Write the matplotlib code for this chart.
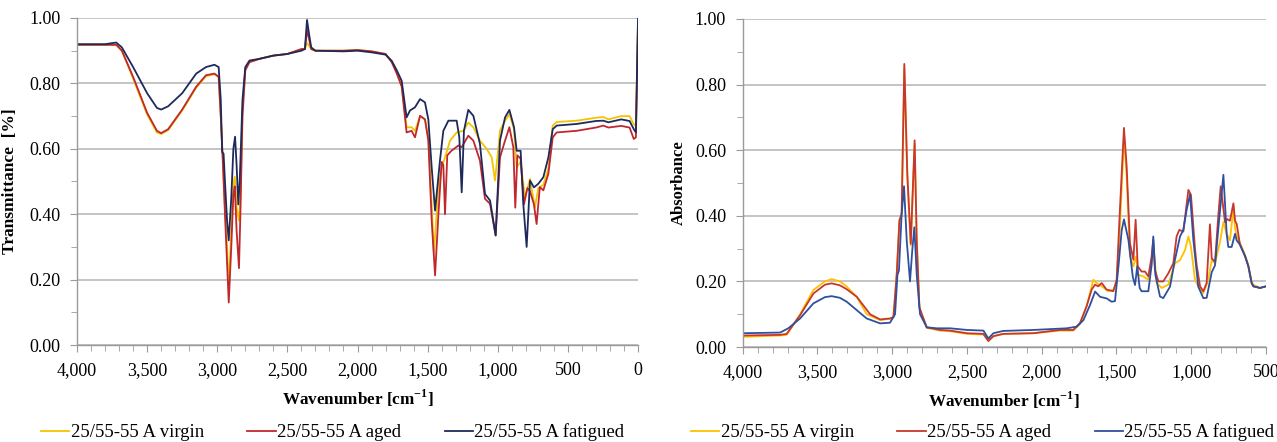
import matplotlib
matplotlib.use("Agg")
import matplotlib.pyplot as plt
from matplotlib.ticker import MultipleLocator, FuncFormatter

plt.rcParams['font.family'] = ['Liberation Serif', 'DejaVu Serif']
plt.rcParams['mathtext.fontset'] = 'custom'
plt.rcParams['mathtext.rm'] = 'Liberation Serif'
plt.rcParams['mathtext.bf'] = 'Liberation Serif:bold'

labels = ['25/55-55 A virgin', '25/55-55 A aged', '25/55-55 A fatigued']

# ---- left panel: transmittance ----
t_virgin_wn = [4000, 3800, 3720, 3680, 3600, 3500, 3430, 3400, 3350, 3250, 3150, 3080, 3020, 2990, 2975,
               2962, 2945, 2930, 2918, 2900, 2885, 2875, 2862, 2845, 2835, 2820, 2800, 2770, 2700, 2600,
               2500, 2400, 2375, 2360, 2345, 2330, 2300, 2100, 2000, 1900, 1800, 1756, 1720, 1685, 1650,
               1614, 1590, 1554, 1519, 1495, 1471, 1455, 1424, 1400, 1376, 1340, 1293, 1245, 1210, 1174,
               1127, 1079, 1043, 1020, 996, 984, 948, 917, 884, 865, 837, 806, 770, 735, 711, 675, 639,
               608, 580, 437, 300, 247, 211, 120, 60, 30, 15, 0]
t_virgin = [0.918, 0.918, 0.918, 0.90, 0.815, 0.705, 0.65, 0.645, 0.657, 0.717, 0.787, 0.822, 0.828, 0.82, 0.70,
            0.58, 0.42, 0.30, 0.18, 0.35, 0.49, 0.515, 0.42, 0.38, 0.45, 0.72, 0.845, 0.865, 0.875, 0.885,
            0.89, 0.905, 0.905, 0.923, 0.915, 0.905, 0.90, 0.90, 0.902, 0.898, 0.89, 0.866, 0.835, 0.80, 0.666,
            0.666, 0.655, 0.70, 0.69, 0.635, 0.43, 0.279, 0.48, 0.54, 0.574, 0.625, 0.65, 0.655, 0.68, 0.666,
            0.625, 0.60, 0.574, 0.503, 0.60, 0.656, 0.686, 0.706, 0.66, 0.544, 0.56, 0.452, 0.508, 0.42, 0.48,
            0.49, 0.54, 0.671, 0.682, 0.686, 0.695, 0.697, 0.69, 0.70, 0.70, 0.675, 0.67, 0.98]

t_aged_wn = [4000, 3800, 3720, 3680, 3600, 3500, 3430, 3400, 3350, 3250, 3150, 3080, 3020, 2990, 2975,
             2962, 2945, 2930, 2918, 2900, 2885, 2875, 2862, 2845, 2835, 2820, 2800, 2770, 2700, 2600,
             2500, 2400, 2375, 2360, 2345, 2330, 2300, 2100, 2000, 1900, 1800, 1756, 1720, 1685, 1650,
             1614, 1590, 1554, 1519, 1495, 1471, 1447, 1423, 1400, 1388, 1376, 1360, 1330, 1281, 1257,
             1210, 1174, 1127, 1091, 1055, 1015, 984, 948, 917, 889, 875, 860, 837, 813, 789, 770, 742,
             723, 700, 675, 639, 608, 580, 437, 300, 247, 211, 120, 60, 30, 15, 0]
t_aged = [0.918, 0.918, 0.918, 0.90, 0.82, 0.71, 0.655, 0.648, 0.66, 0.72, 0.79, 0.825, 0.83, 0.82, 0.70,
          0.58, 0.40, 0.25, 0.13, 0.30, 0.46, 0.485, 0.35, 0.235, 0.40, 0.70, 0.84, 0.865, 0.875, 0.885,
          0.89, 0.905, 0.905, 0.963, 0.935, 0.905, 0.90, 0.90, 0.902, 0.898, 0.89, 0.865, 0.83, 0.79, 0.65,
          0.655, 0.635, 0.701, 0.69, 0.625, 0.38, 0.213, 0.40, 0.56, 0.55, 0.40, 0.58, 0.594, 0.61, 0.605,
          0.64, 0.625, 0.564, 0.447, 0.432, 0.335, 0.574, 0.625, 0.666, 0.605, 0.42, 0.58, 0.57, 0.43, 0.48,
          0.47, 0.43, 0.37, 0.483, 0.473, 0.524, 0.635, 0.65, 0.655, 0.665, 0.671, 0.665, 0.67, 0.665, 0.63,
          0.635, 0.98]

t_fatigued_wn = [4000, 3800, 3720, 3680, 3600, 3500, 3430, 3400, 3350, 3250, 3150, 3080, 3020, 2990, 2975,
                 2965, 2955, 2945, 2930, 2918, 2900, 2885, 2873, 2862, 2850, 2840, 2820, 2800, 2770, 2700,
                 2600, 2500, 2400, 2375, 2360, 2345, 2330, 2300, 2100, 2000, 1900, 1800, 1756, 1720, 1685,
                 1650, 1626, 1590, 1554, 1519, 1495, 1471, 1447, 1412, 1388, 1352, 1293, 1274, 1257, 1241,
                 1210, 1174, 1127, 1091, 1055, 1015, 984, 948, 917, 884, 865, 837, 818, 794, 770, 742, 711,
                 675, 639, 608, 580, 437, 300, 247, 211, 120, 60, 30, 15, 0]
t_fatigued = [0.92, 0.92, 0.925, 0.91, 0.85, 0.77, 0.725, 0.72, 0.73, 0.77, 0.83, 0.85, 0.857, 0.85, 0.75,
              0.59, 0.585, 0.50, 0.38, 0.32, 0.45, 0.60, 0.637, 0.55, 0.43, 0.50, 0.75, 0.85, 0.87, 0.875,
              0.885, 0.89, 0.90, 0.905, 0.994, 0.95, 0.91, 0.90, 0.898, 0.90, 0.895, 0.888, 0.869, 0.84, 0.808,
              0.696, 0.717, 0.727, 0.752, 0.742, 0.69, 0.543, 0.411, 0.564, 0.655, 0.686, 0.686, 0.635, 0.467,
              0.655, 0.719, 0.701, 0.615, 0.462, 0.442, 0.335, 0.625, 0.696, 0.719, 0.666, 0.594, 0.594, 0.432,
              0.30, 0.503, 0.482, 0.493, 0.513, 0.574, 0.66, 0.671, 0.676, 0.685, 0.686, 0.681, 0.69, 0.685,
              0.66, 0.65, 1.0]

# ---- right panel: absorbance ----
a_virgin_wn = [4000, 3750, 3706, 3616, 3527, 3450, 3405, 3350, 3304, 3237, 3171, 3081, 3015, 2992, 2970,
               2952, 2937, 2919, 2899, 2876, 2850, 2836, 2818, 2769, 2680, 2613, 2500, 2390, 2357, 2323,
               2257, 2056, 1878, 1789, 1744, 1700, 1655, 1633, 1599, 1555, 1521, 1499, 1477, 1450, 1432,
               1410, 1387, 1370, 1354, 1320, 1287, 1265, 1254, 1231, 1198, 1153, 1109, 1075, 1042, 1019,
               1002, 975, 953, 919, 886, 863, 841, 808, 785, 763, 741, 728, 718, 707, 696, 663, 640, 618,
               596, 585, 540, 500]
a_virgin = [0.031, 0.035, 0.037, 0.10, 0.174, 0.20, 0.207, 0.20, 0.184, 0.153, 0.10, 0.082, 0.086, 0.09, 0.22,
            0.38, 0.40, 0.85, 0.52, 0.31, 0.62, 0.32, 0.12, 0.058, 0.05, 0.048, 0.04, 0.038, 0.02, 0.033,
            0.04, 0.042, 0.05, 0.05, 0.07, 0.124, 0.205, 0.195, 0.185, 0.17, 0.175, 0.195, 0.367, 0.638, 0.52,
            0.276, 0.246, 0.276, 0.22, 0.215, 0.205, 0.26, 0.317, 0.195, 0.18, 0.19, 0.255, 0.265, 0.295, 0.337,
            0.306, 0.205, 0.185, 0.164, 0.205, 0.265, 0.255, 0.32, 0.381, 0.345, 0.325, 0.38, 0.43, 0.36,
            0.339, 0.306, 0.28, 0.25, 0.20, 0.19, 0.18, 0.185]

a_aged_wn = [4000, 3750, 3706, 3616, 3527, 3450, 3405, 3350, 3304, 3237, 3148, 3081, 3015, 2992, 2970,
             2952, 2937, 2919, 2899, 2876, 2850, 2836, 2818, 2769, 2680, 2613, 2500, 2390, 2357, 2323,
             2257, 2056, 1878, 1789, 1744, 1700, 1666, 1644, 1622, 1599, 1566, 1521, 1499, 1477, 1450,
             1432, 1410, 1387, 1372, 1358, 1332, 1309, 1287, 1265, 1254, 1243, 1220, 1187, 1153, 1120,
             1098, 1080, 1053, 1019, 1002, 975, 964, 941, 919, 897, 875, 863, 841, 819, 803, 774, 759,
             741, 718, 707, 696, 674, 640, 618, 596, 585, 540, 500]
a_aged = [0.035, 0.037, 0.04, 0.097, 0.163, 0.19, 0.194, 0.188, 0.176, 0.153, 0.10, 0.084, 0.087, 0.091, 0.22,
          0.386, 0.406, 0.863, 0.528, 0.315, 0.63, 0.325, 0.12, 0.06, 0.052, 0.05, 0.042, 0.04, 0.018, 0.033,
          0.04, 0.042, 0.052, 0.052, 0.073, 0.124, 0.175, 0.19, 0.185, 0.195, 0.175, 0.17, 0.205, 0.419, 0.668,
          0.551, 0.317, 0.266, 0.388, 0.246, 0.23, 0.23, 0.215, 0.276, 0.327, 0.236, 0.20, 0.20, 0.225, 0.255,
          0.337, 0.357, 0.352, 0.479, 0.464, 0.30, 0.25, 0.185, 0.17, 0.195, 0.374, 0.27, 0.26, 0.40, 0.49,
          0.38, 0.39, 0.385, 0.438, 0.385, 0.375, 0.312, 0.277, 0.246, 0.195, 0.185, 0.18, 0.185]

a_fatigued_wn = [4000, 3750, 3695, 3616, 3527, 3450, 3405, 3350, 3304, 3171, 3081, 3015, 2981, 2965, 2955,
                 2937, 2921, 2903, 2881, 2865, 2852, 2836, 2814, 2769, 2700, 2613, 2500, 2390, 2357, 2323,
                 2257, 2056, 1833, 1766, 1721, 1677, 1643, 1610, 1565, 1532, 1510, 1487, 1465, 1450, 1420,
                 1391, 1376, 1361, 1345, 1332, 1287, 1265, 1254, 1240, 1209, 1187, 1142, 1109, 1075, 1053,
                 1030, 1008, 986, 953, 919, 897, 863, 841, 819, 785, 763, 752, 730, 707, 696, 674, 640, 618,
                 596, 585, 540, 500]
a_fatigued = [0.042, 0.044, 0.057, 0.087, 0.133, 0.152, 0.155, 0.15, 0.138, 0.087, 0.072, 0.074, 0.10, 0.22,
              0.233, 0.406, 0.49, 0.325, 0.20, 0.30, 0.365, 0.22, 0.10, 0.06, 0.057, 0.057, 0.052, 0.05, 0.026,
              0.042, 0.049, 0.052, 0.057, 0.062, 0.082, 0.128, 0.169, 0.153, 0.148, 0.138, 0.14, 0.245, 0.356,
              0.389, 0.326, 0.214, 0.189, 0.246, 0.18, 0.17, 0.17, 0.25, 0.337, 0.22, 0.154, 0.149, 0.184, 0.266,
              0.337, 0.357, 0.42, 0.465, 0.327, 0.184, 0.149, 0.15, 0.228, 0.249, 0.36, 0.525, 0.345, 0.305,
              0.305, 0.345, 0.325, 0.312, 0.277, 0.246, 0.195, 0.185, 0.18, 0.185]

left_colors = ['#F5C400', '#C0282D', '#1F2A5C']
right_colors = ['#FFC000', '#C8372D', '#2F4F9F']

fig = plt.figure(figsize=(12.77, 4.42), dpi=100)
axL = fig.add_axes([77 / 1277, 1 - 345 / 442, 561 / 1277, 327 / 442])
axR = fig.add_axes([742.7 / 1277, 1 - 347 / 442, 523.3 / 1277, 328 / 442])


def style_axis(ax, xmax, xmin):
    ax.set_xlim(xmax, xmin)
    ax.set_ylim(0, 1.0)
    ax.xaxis.set_major_locator(MultipleLocator(500))
    ax.xaxis.set_minor_locator(MultipleLocator(100))
    ax.yaxis.set_major_locator(MultipleLocator(0.2))
    ax.yaxis.set_minor_locator(MultipleLocator(0.1))
    ax.xaxis.set_major_formatter(FuncFormatter(lambda v, p: f'{int(round(v)):,}'))
    ax.yaxis.set_major_formatter(FuncFormatter(lambda v, p: f'{v:.2f}'))
    ax.grid(axis='y', which='major', color='#b4b4b4', lw=1.1)
    ax.set_axisbelow(True)
    for s in ['top', 'right']:
        ax.spines[s].set_visible(False)
    for s in ['left', 'bottom']:
        ax.spines[s].set_color('#9a9a9a')
        ax.spines[s].set_linewidth(1.0)
    ax.tick_params(which='both', direction='out', color='#9a9a9a', labelsize=13, pad=7)
    ax.tick_params(which='major', length=5)
    ax.tick_params(which='minor', length=4)
    ax.set_xlabel(r'Wavenumber [cm$^{\mathbf{-1}}$]', fontsize=12.3, fontweight='bold')
    ax.xaxis.set_label_coords(0.5, -0.13)


style_axis(axL, 4000, 0)
style_axis(axR, 4000, 500)

for wn, vals, c, lab in zip([t_virgin_wn, t_aged_wn, t_fatigued_wn], [t_virgin, t_aged, t_fatigued],
                            left_colors, labels):
    axL.plot(wn, vals, color=c, lw=1.3, label=lab)

for wn, vals, c, lab in zip([a_virgin_wn, a_aged_wn, a_fatigued_wn], [a_virgin, a_aged, a_fatigued],
                            right_colors, labels):
    axR.plot(wn, vals, color=c, lw=1.3, label=lab)

axL.set_ylabel('Transmittance  [%]', fontsize=12.5, fontweight='bold')
axL.yaxis.set_label_coords(-0.105, 0.5)
axR.set_ylabel('Absorbance', fontsize=12, fontweight='bold')
axR.yaxis.set_label_coords(-0.107, 0.5)

leg_kw = dict(ncol=3, frameon=False, fontsize=13.5, handlelength=1.5, handletextpad=0.1,
              columnspacing=2.3, borderpad=0, borderaxespad=0, loc='center left')
axL.legend(bbox_to_anchor=(41 / 1277, 0.022), bbox_transform=fig.transFigure, **leg_kw)
axR.legend(bbox_to_anchor=(691 / 1277, 0.022), bbox_transform=fig.transFigure, **leg_kw)

fig.savefig('out.png', dpi=100)
